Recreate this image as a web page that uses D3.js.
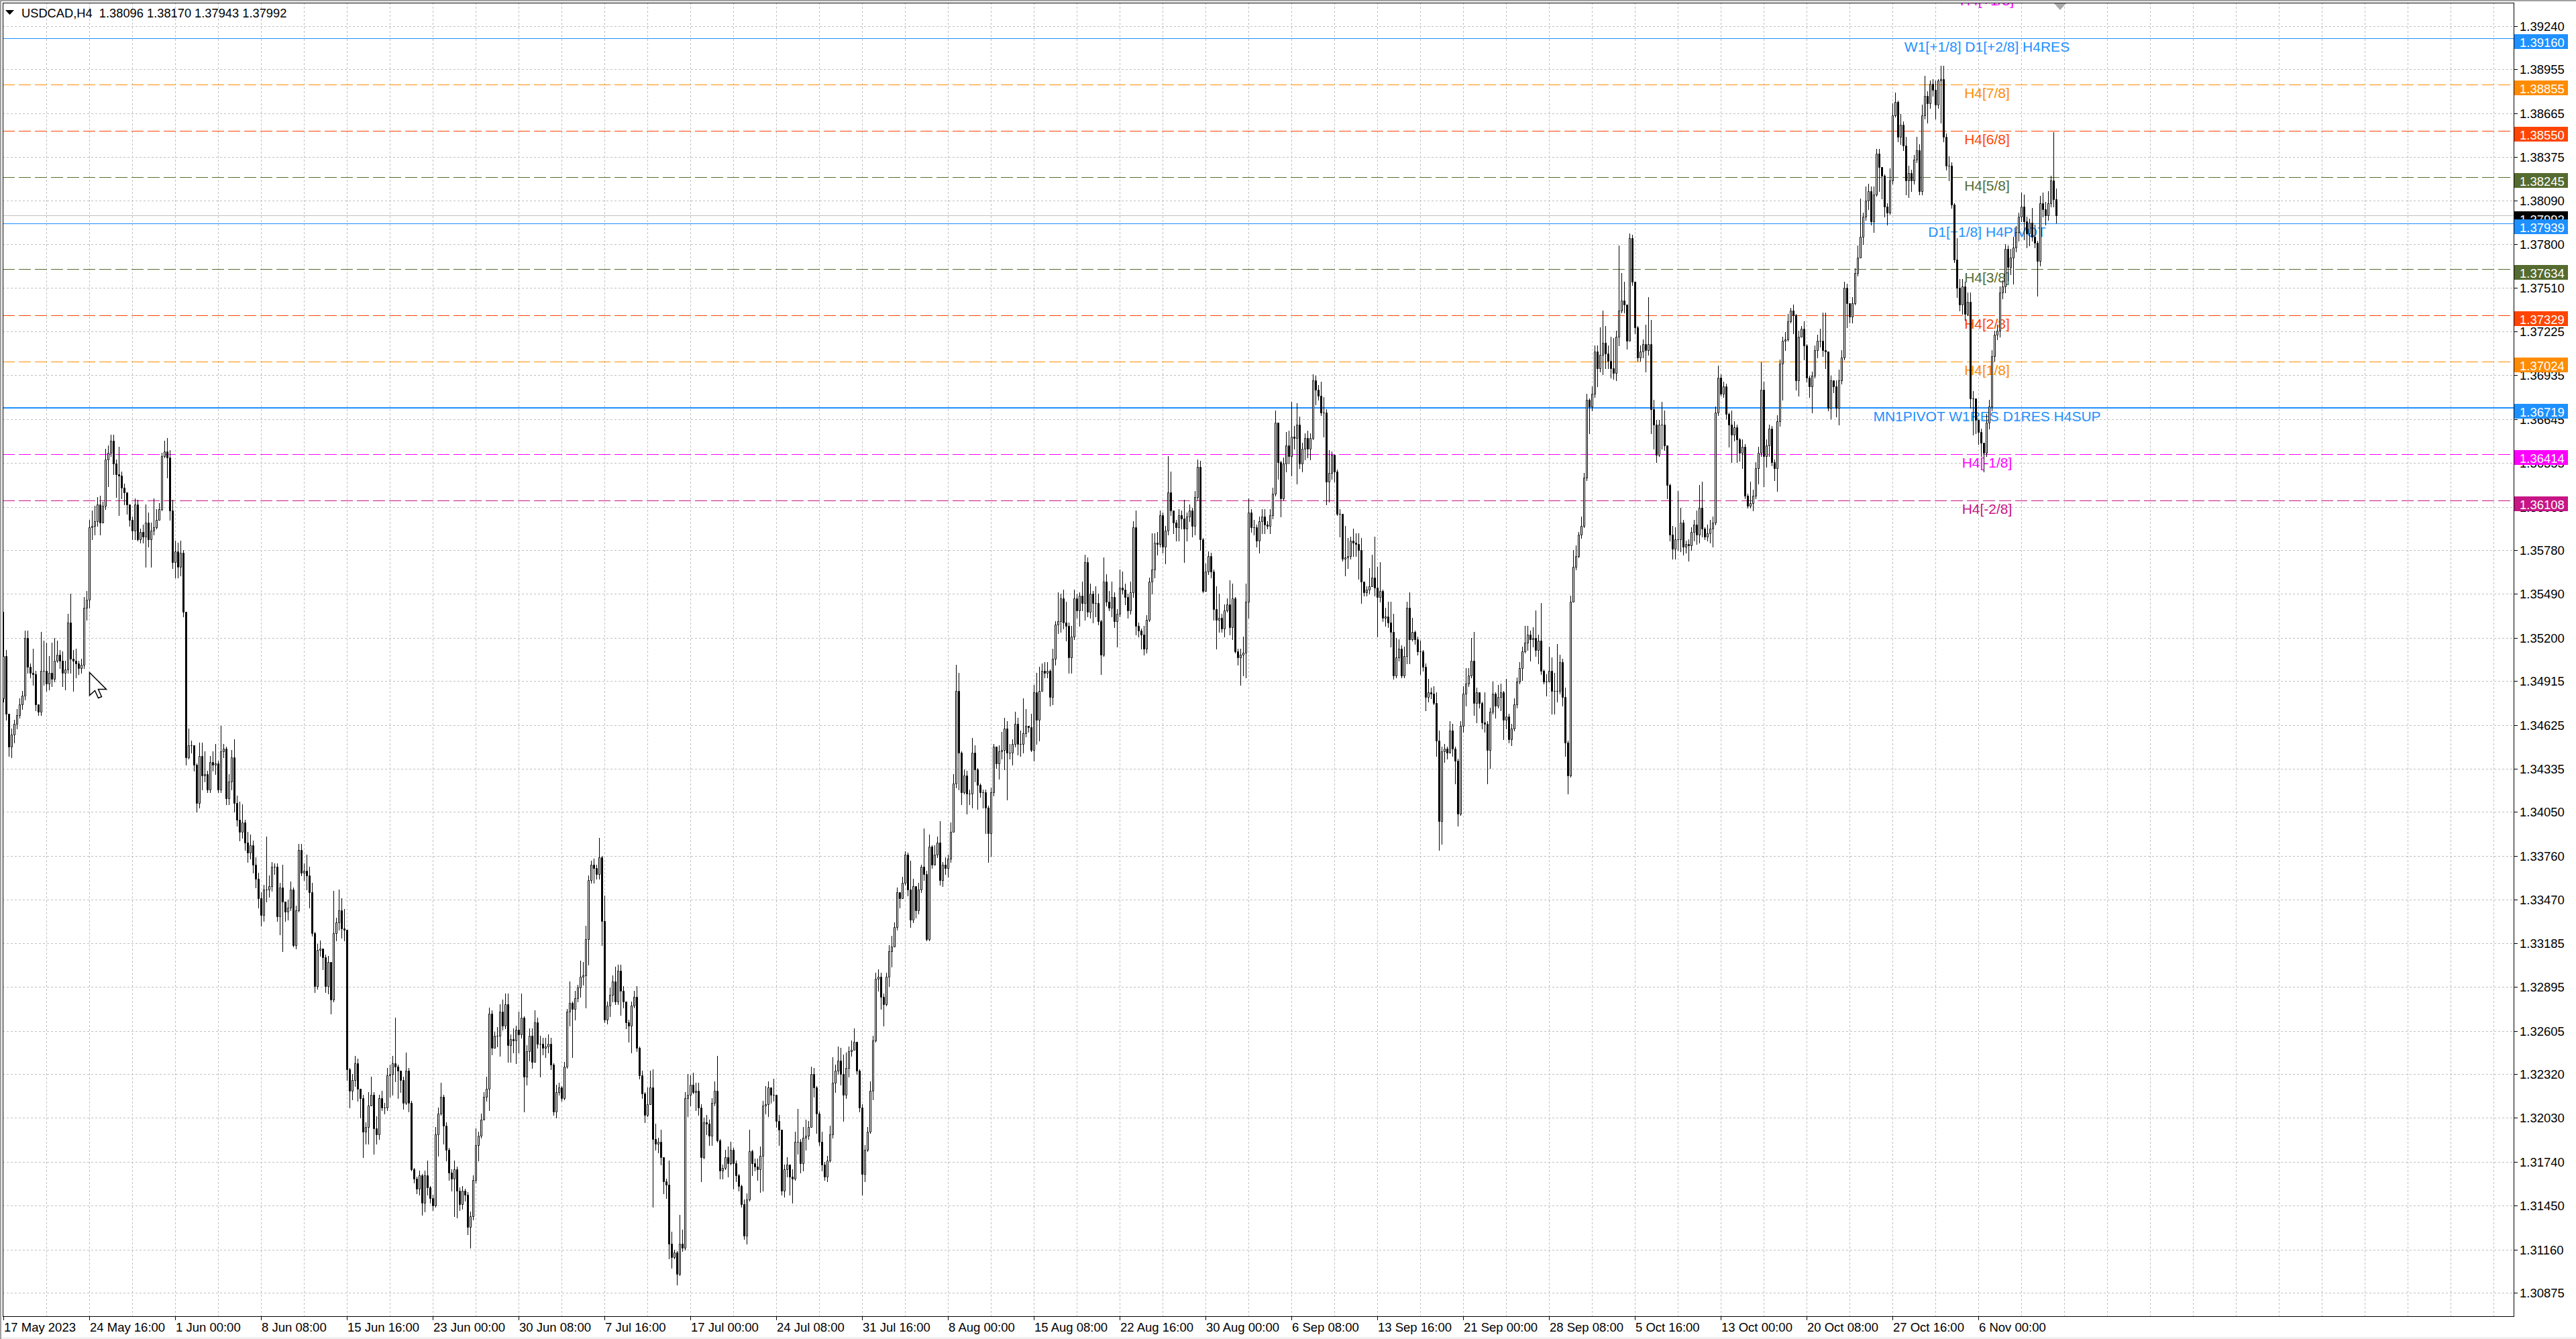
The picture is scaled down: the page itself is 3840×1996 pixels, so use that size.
<!DOCTYPE html>
<html>
<head>
<meta charset="utf-8">
<script src="https://cdnjs.cloudflare.com/ajax/libs/d3/7.8.5/d3.min.js"></script>
<style>
  html, body { margin: 0; padding: 0; background: #f0f0f0; }
  svg { display: block; }
  text { font-family: "Liberation Sans", Arial, sans-serif; }
</style>
</head>
<body>
<svg id="chart" width="3840" height="1996"></svg>
<script>
// USDCAD H4 candles, values in pips above 1.3000 (open = previous close)
const firstOpen = 480;
const closes = [
  508,470,448,456,463,469,476,482,520,501,497,496,476,471,498,498,490,497,493,505,
  509,505,497,499,530,506,505,503,500,502,540,545,593,594,597,608,596,607,638,642,
  650,635,628,627,619,616,608,598,591,608,585,590,587,596,585,591,593,598,605,640,
  643,639,604,570,577,567,576,537,441,449,449,436,411,442,429,430,420,438,436,437,
  420,445,447,414,425,441,411,400,392,398,385,378,383,370,361,348,337,354,354,356,
  369,369,336,355,346,339,342,354,317,340,380,365,366,363,352,325,290,314,315,309,
  290,306,281,325,332,340,328,327,235,221,228,239,222,216,194,197,211,218,196,192,
  216,210,210,231,232,239,237,234,228,213,234,213,169,163,156,165,147,165,157,150,
  145,192,206,217,198,182,167,163,169,155,146,155,152,131,138,162,185,191,202,217,
  222,272,249,257,257,273,264,278,251,255,254,261,258,269,230,247,257,240,266,252,
  252,249,250,252,238,207,220,223,216,237,273,279,275,282,289,296,297,321,360,370,
  368,364,375,333,268,277,284,293,280,300,287,280,266,264,277,283,249,231,219,205,
  212,223,189,186,187,177,161,159,120,111,114,100,120,117,216,218,225,220,221,210,
  177,200,199,191,213,221,188,168,170,177,173,182,173,165,158,146,125,149,181,173,
  171,169,178,211,212,223,218,218,201,195,155,169,172,164,163,187,187,173,190,191,
  197,232,223,206,187,172,164,175,192,226,234,241,232,218,236,247,248,253,234,210,
  166,182,194,221,254,295,296,283,278,296,313,316,329,352,348,358,377,354,334,356,
  340,354,369,364,321,382,370,377,385,360,370,368,374,392,424,485,444,418,429,417,
  417,444,433,423,418,418,408,391,418,448,437,445,446,460,444,444,450,463,450,450,
  457,462,461,446,484,466,485,498,497,498,481,506,529,531,546,530,528,507,521,546,
  538,548,543,570,537,549,543,543,531,509,557,544,540,547,531,536,553,552,547,538,
  550,593,528,525,522,513,532,557,565,583,582,601,580,591,616,604,596,593,601,599,
  592,600,604,594,613,633,585,551,564,574,564,539,532,533,526,538,542,527,546,511,
  507,509,510,544,603,593,593,584,597,600,595,594,601,615,662,636,612,635,647,640,
  653,652,661,635,645,652,645,652,690,684,680,669,669,623,629,641,630,602,602,572,
  573,574,584,583,582,578,557,550,552,554,560,553,547,551,533,534,530,524,495,507,
  513,495,508,540,519,524,519,511,511,501,481,484,483,477,452,399,445,447,444,459,
  447,439,404,462,483,490,495,505,477,484,477,464,463,446,471,483,475,481,484,466,
  468,453,460,476,491,500,511,517,522,519,520,512,518,498,491,491,498,485,485,485,
  504,481,451,429,544,567,574,588,594,626,677,673,681,709,698,707,715,708,703,698,
  695,719,736,743,740,716,784,755,725,705,709,714,710,714,671,661,641,661,661,647,
  621,588,579,585,585,596,580,582,581,590,595,588,606,592,587,589,592,596,669,692,
  681,686,668,661,654,659,651,642,646,614,607,609,614,632,642,684,640,647,658,636,
  632,663,701,716,717,729,736,733,690,719,724,713,692,686,693,710,716,716,710,709,
  672,690,686,672,690,705,751,741,732,741,761,771,785,798,809,815,795,813,840,831,
  825,805,801,822,865,874,851,859,845,822,827,822,836,842,815,865,878,873,886,882,
  872,888,889,851,832,832,806,770,751,740,752,734,742,678,678,664,656,649,642,662,
  673,706,720,723,748,752,777,765,771,778,788,798,805,795,787,794,785,781,769,807,
  803,799,807,822,809.6,799.2
];
const highs = [
  537,512,470,460,466,473,480,485,525,525,503,513,498,476,524,518,517,508,517,520,
  518,512,511,505,536,549,512,513,505,506,547,551,598,604,607,613,614,610,645,647,
  654,654,638,646,630,622,614,608,600,612,611,592,595,608,603,596,612,605,609,642,
  650,652,644,611,584,583,584,578,537,460,452,449,437,451,451,445,432,442,445,450,
  439,462,450,448,430,446,453,416,412,410,400,392,390,386,375,365,352,357,389,363,
  372,371,371,358,370,346,347,359,355,343,384,384,371,377,369,358,326,318,320,315,
  311,310,306,353,335,354,348,341,327,236,232,244,242,222,218,200,220,230,220,204,
  218,221,213,236,238,244,269,238,233,230,246,236,214,170,164,168,166,168,175,158,
  152,197,210,226,218,200,183,169,175,171,157,158,156,154,141,165,196,194,206,220,
  230,276,274,260,263,278,281,285,285,258,262,264,273,285,270,251,262,262,274,269,
  257,256,256,258,256,239,225,226,224,240,275,293,280,287,291,307,306,330,363,373,
  374,370,388,376,350,280,289,297,303,304,304,290,279,268,280,287,290,250,234,220,
  223,234,235,199,190,195,175,163,175,128,116,115,139,129,220,232,231,233,226,226,
  212,203,205,202,216,227,244,189,172,182,184,187,183,175,166,159,149,153,195,182,
  176,176,184,214,224,227,222,229,217,205,195,172,177,172,169,194,209,189,197,202,
  201,237,236,224,207,194,174,178,198,243,238,250,249,245,246,250,254,262,253,235,
  212,185,197,227,257,299,301,299,285,299,317,323,332,355,351,362,379,378,373,361,
  355,358,370,394,366,390,383,383,389,399,372,375,377,398,430,502,497,445,433,432,
  420,454,449,434,424,420,420,409,421,450,448,449,458,467,465,450,453,471,467,459,
  480,473,462,470,489,497,501,503,504,504,499,513,531,550,549,552,544,530,528,552,
  549,550,557,575,573,556,551,554,549,532,573,562,551,557,550,539,565,564,556,549,
  557,597,604,530,526,528,535,560,589,589,590,604,603,594,640,630,600,598,605,604,
  611,603,608,606,617,638,637,586,569,577,576,565,554,549,536,542,546,558,556,547,
  513,513,521,556,612,605,598,595,600,605,605,597,605,619,670,662,637,639,656,657,
  676,660,675,666,649,655,657,655,694,693,687,689,679,671,644,643,636,631,605,602,
  594,586,587,592,589,589,586,556,554,566,575,587,567,570,552,540,544,544,536,520,
  519,515,514,544,550,533,525,521,518,512,503,493,487,488,484,459,448,450,448,465,
  463,448,440,465,488,500,500,520,524,487,484,478,484,465,474,491,484,489,490,485,
  493,470,463,480,494,504,514,528,528,525,527,538,522,543,499,496,514,507,497,516,
  509,506,487,452,548,578,581,590,600,629,681,678,686,713,713,725,736,726,713,719,
  718,723,779,761,755,740,787,786,755,726,713,717,727,745,730,677,664,664,676,670,
  647,622,594,593,617,606,598,584,585,593,598,604,621,623,593,595,598,600,673,700,
  694,689,688,669,670,663,661,652,651,648,615,623,618,636,646,702,689,651,661,660,
  638,667,704,719,722,734,738,740,734,723,726,729,714,693,696,713,720,724,735,735,
  709,693,688,690,697,710,755,754,737,745,764,779,810,801,818,820,818,818,843,843,
  831,826,807,830,873,880,875,866,861,851,832,829,839,851,846,872,891,881,888,889,
  888,889,898,898,853,838,834,807,784,757,757,755,748,748,683,678,662,658,649,668,
  677,710,723,727,752,756,780,779,777,785,792,801,814,813,798,797,804,793,782,812,
  814,808,815,825,854,817
];
const lows = [
  478,466,442,441,451,460,467,473,479,497,494,489,472,469,469,489,485,486,488,491,
  504,500,488,486,497,497,485,494,496,497,500,532,540,585,588,594,588,596,605,620,
  640,628,613,601,612,608,602,594,585,585,584,583,583,567,580,567,588,592,600,604,
  639,626,598,566,560,560,561,534,436,440,444,432,405,408,420,425,418,418,432,430,
  418,418,441,410,410,420,405,396,386,388,380,372,374,365,355,342,330,333,346,349,
  353,364,333,324,313,333,334,340,316,315,339,363,360,354,342,323,286,288,310,301,
  286,285,272,280,320,327,322,320,228,210,215,224,214,203,177,186,186,212,179,186,
  189,208,206,208,217,218,227,216,220,209,212,207,168,160,153,152,139,141,152,147,
  142,144,178,205,186,175,162,155,138,137,142,143,148,126,117,136,160,175,190,203,
  214,208,245,249,250,244,261,262,240,240,246,239,246,256,207,225,241,236,240,249,
  230,245,243,246,235,205,203,218,214,215,236,264,243,268,280,283,291,276,304,358,
  358,361,361,317,266,265,270,280,278,278,271,276,262,253,246,276,247,229,216,200,
  204,213,144,182,180,172,153,150,110,104,110,93,99,115,116,204,211,219,208,205,
  161,176,192,185,185,211,187,163,163,169,164,172,156,161,155,144,123,120,148,165,
  168,162,154,155,206,204,213,214,197,185,152,151,164,152,147,162,179,167,168,182,
  189,197,217,193,185,168,162,161,174,190,220,232,225,201,216,230,244,248,232,207,
  152,161,181,193,215,253,287,275,264,277,290,303,318,327,342,348,357,350,329,332,
  335,338,352,360,320,320,368,370,375,357,356,364,362,372,392,421,420,410,417,404,
  410,408,425,407,415,408,391,372,376,416,434,427,440,433,413,440,436,448,443,442,
  444,455,458,445,439,450,452,485,494,494,475,476,502,523,524,526,518,497,497,519,
  533,528,538,532,534,533,530,534,529,496,508,541,538,534,527,514,534,549,542,533,
  536,547,522,521,513,509,510,531,549,560,575,580,576,569,588,601,589,584,584,592,
  570,584,597,587,588,611,578,550,552,562,560,532,513,524,524,521,537,522,519,510,
  502,489,495,494,533,590,588,580,576,589,589,592,589,599,614,625,600,611,630,635,
  627,645,622,632,630,638,639,638,651,674,677,667,653,608,610,625,623,601,587,571,
  561,566,572,574,574,559,543,548,548,549,554,548,521,544,531,528,527,514,493,494,
  505,494,494,503,503,518,516,509,496,498,472,478,480,476,442,380,384,438,440,444,
  442,424,396,403,458,475,488,494,469,464,474,460,458,424,434,470,467,474,472,453,
  460,451,449,459,474,490,492,510,512,505,514,508,503,496,490,482,491,470,470,478,
  483,475,442,417,428,544,565,573,586,593,624,655,670,679,686,696,694,698,698,692,
  691,690,713,735,735,711,716,753,721,703,703,705,696,707,655,645,636,640,645,644,
  612,584,572,572,578,577,575,576,571,578,584,582,583,587,585,584,583,580,595,667,
  680,679,665,646,636,650,636,637,632,612,606,606,604,612,622,640,620,633,640,634,
  624,617,660,677,710,716,728,721,684,680,719,704,689,679,669,692,705,712,706,698,
  670,665,682,666,661,688,704,725,728,728,740,759,771,780,796,803,793,788,812,815,
  810,798,793,800,820,864,848,846,842,813,811,815,820,834,813,813,863,860,870,878,
  863,870,860,848,829,822,804,768,745,736,734,730,733,672,654,655,648,640,630,640,
  658,670,703,717,719,744,748,756,760,754,775,782,795,783,778,779,782,778,746,766,
  798,793,796,805,805,794.3
];

const symbol = 'USDCAD,H4';
const priceTicks = [1.39240,1.38955,1.38665,1.38375,1.38090,1.37800,1.37510,1.37225,1.36935,1.36645,
  1.36355,1.36065,1.35780,1.35490,1.35200,1.34915,1.34625,1.34335,1.34050,1.33760,
  1.33470,1.33185,1.32895,1.32605,1.32320,1.32030,1.31740,1.31450,1.31160,1.30875];
const dateLabels = ['17 May 2023','24 May 16:00','1 Jun 00:00','8 Jun 08:00','15 Jun 16:00','23 Jun 00:00',
  '30 Jun 08:00','7 Jul 16:00','17 Jul 00:00','24 Jul 08:00','31 Jul 16:00','8 Aug 00:00','15 Aug 08:00',
  '22 Aug 16:00','30 Aug 00:00','6 Sep 08:00','13 Sep 16:00','21 Sep 00:00','28 Sep 08:00','5 Oct 16:00',
  '13 Oct 00:00','20 Oct 08:00','27 Oct 16:00','6 Nov 00:00'];
const barsPerDateLabel = 32;

// Murrey / pivot levels
const levelPrices = [1.39465,1.39160,1.38855,1.38550,1.38245,1.37939,1.37634,1.37329,1.37024,1.36719,1.36414,1.36108];
const levelNames = ['H4[+1/8]','W1[+1/8] D1[+2/8] H4RES','H4[7/8]','H4[6/8]','H4[5/8]','D1[+1/8] H4PIVOT',
  'H4[3/8]','H4[2/8]','H4[1/8]','MN1PIVOT W1RES D1RES H4SUP','H4[-1/8]','H4[-2/8]'];
const levelKinds = ['ext','blue','orange','red','olive','blue','olive','red','orange','main','ext','low2'];

const levelStyle = {
  blue:   { color: '#1e90ff', width: 1, dash: null },
  main:   { color: '#1e90ff', width: 2, dash: null },
  orange: { color: '#ff8c00', width: 1, dash: '18,6' },
  red:    { color: '#ff4500', width: 1, dash: '18,6' },
  olive:  { color: '#556b2f', width: 1, dash: '18,6' },
  ext:    { color: '#ff00ff', width: 1, dash: '18,6' },
  low2:   { color: '#c71585', width: 1, dash: '18,6' }
};

const svg = d3.select('#chart');
const plotL = 4, plotT = 4, plotR = 3747, plotB = 1962;
const labelX = 2962;

const toPrice = v => 1.3 + v / 10000;
const bars = closes.map((c, i) => ({
  i: i,
  o: toPrice(i ? closes[i - 1] : firstOpen),
  h: toPrice(highs[i]),
  l: toPrice(lows[i]),
  c: toPrice(c)
}));
const last = bars[bars.length - 1];

const x = d3.scaleLinear().domain([0, bars.length - 1]).range([5, 5 + 4 * (bars.length - 1)]);
const y = d3.scaleLinear().domain([priceTicks[priceTicks.length - 1], priceTicks[0]]).range([1927, 39]);
const py = v => Math.round(y(v));

// background and window frame
svg.append('rect').attr('x', 0).attr('y', 0).attr('width', 3840).attr('height', 1993).attr('fill', '#fff');
svg.append('rect').attr('x', 0).attr('y', 0).attr('width', 3840).attr('height', 2).attr('fill', '#a0a0a0');
svg.append('rect').attr('x', 0).attr('y', 0).attr('width', 2).attr('height', 1996).attr('fill', '#a0a0a0');

svg.append('defs').append('clipPath').attr('id', 'plotClip')
  .append('rect').attr('x', plotL + 1).attr('y', plotT + 1)
  .attr('width', plotR - plotL - 1).attr('height', plotB - plotT - 1);

// grid
let grid = svg.append('g').attr('stroke', '#c0c0c0').attr('stroke-width', 1).attr('stroke-dasharray', '3,3');
grid.selectAll('line.h')
  .data(priceTicks)
  .join('line')
    .attr('class', 'h')
    .attr('x1', plotL).attr('x2', plotR)
    .attr('y1', d => py(d) + 0.5).attr('y2', d => py(d) + 0.5);
let gridBars = d3.range(16, 2000, 16).filter(b => x(b) < plotR - 2);
grid.selectAll('line.v')
  .data(gridBars)
  .join('line')
    .attr('class', 'v')
    .attr('x1', d => x(d) + 0.5).attr('x2', d => x(d) + 0.5)
    .attr('y1', plotT).attr('y2', plotB);

// levels
let levels = levelPrices.map((p, k) => ({ p: p, name: levelNames[k], st: levelStyle[levelKinds[k]] }));
let levelG = svg.append('g').attr('clip-path', 'url(#plotClip)');
levelG.selectAll('line')
  .data(levels)
  .join('line')
    .attr('x1', plotL).attr('x2', plotR)
    .attr('y1', d => py(d.p) + (d.st.width === 1 ? 0.5 : 0))
    .attr('y2', d => py(d.p) + (d.st.width === 1 ? 0.5 : 0))
    .attr('stroke', d => d.st.color)
    .attr('stroke-width', d => d.st.width)
    .attr('stroke-dasharray', d => d.st.dash);
levelG.selectAll('text')
  .data(levels)
  .join('text')
    .attr('x', labelX)
    .attr('y', d => py(d.p) + 20)
    .attr('text-anchor', 'middle')
    .attr('font-size', 21)
    .attr('fill', d => d.st.color)
    .text(d => d.name);

// bid line
svg.append('line')
  .attr('x1', plotL).attr('x2', plotR)
  .attr('y1', py(last.c) + 0.5).attr('y2', py(last.c) + 0.5)
  .attr('stroke', '#c0c0c0').attr('stroke-width', 1);

// candles
let candleG = svg.append('g').attr('clip-path', 'url(#plotClip)');
candleG.selectAll('line')
  .data(bars)
  .join('line')
    .attr('x1', d => x(d.i) + 0.5).attr('x2', d => x(d.i) + 0.5)
    .attr('y1', d => py(d.h)).attr('y2', d => py(d.l) + 1)
    .attr('stroke', '#000').attr('stroke-width', 1);
candleG.selectAll('path')
  .data(bars)
  .join('path')
    .attr('d', d => {
      const top = py(Math.max(d.o, d.c));
      const bot = py(Math.min(d.o, d.c));
      return 'M' + (x(d.i) - 0.5) + ',' + (top + 0.5) + 'h2v' + (bot - top) + 'h-2Z';
    })
    .attr('fill', d => d.c < d.o ? '#000' : '#fff')
    .attr('stroke', '#000').attr('stroke-width', 1);

// frame
let frame = svg.append('g').attr('stroke', '#000').attr('stroke-width', 1);
frame.append('line').attr('x1', plotL).attr('x2', plotR + 1).attr('y1', plotT + 0.5).attr('y2', plotT + 0.5);
frame.append('line').attr('x1', plotL + 0.5).attr('x2', plotL + 0.5).attr('y1', plotT).attr('y2', plotB + 1);
frame.append('line').attr('x1', plotR + 0.5).attr('x2', plotR + 0.5).attr('y1', plotT).attr('y2', plotB + 1);
frame.append('line').attr('x1', plotL).attr('x2', plotR + 1).attr('y1', plotB + 0.5).attr('y2', plotB + 0.5);

// price axis
let axisR = svg.append('g');
axisR.selectAll('line')
  .data(priceTicks)
  .join('line')
    .attr('x1', plotR).attr('x2', plotR + 6)
    .attr('y1', d => py(d) + 0.5).attr('y2', d => py(d) + 0.5)
    .attr('stroke', '#000');
axisR.selectAll('text')
  .data(priceTicks)
  .join('text')
    .attr('x', 3756)
    .attr('y', d => py(d) + 7)
    .attr('font-size', 18.5)
    .attr('fill', '#000')
    .text(d => d.toFixed(5));

// price labels on axis (bid first, levels on top)
let boxes = [{ p: last.c, color: '#000' }]
  .concat(levels.filter(d => d.p <= y.domain()[1]).map(d => ({ p: d.p, color: d.st.color })));
let boxG = svg.append('g');
let box = boxG.selectAll('g')
  .data(boxes)
  .join('g')
    .attr('transform', d => 'translate(' + (plotR + 1) + ',' + py(d.p) + ')');
box.append('rect')
  .attr('x', 0).attr('y', -6).attr('width', 80).attr('height', 22)
  .attr('fill', d => d.color);
box.append('text')
  .attr('x', 8).attr('y', 13)
  .attr('font-size', 18.5)
  .attr('fill', '#fff')
  .text(d => d.p.toFixed(5));

// time axis
let labelBars = dateLabels.map((_, k) => k * barsPerDateLabel);
let axisB = svg.append('g');
axisB.selectAll('line')
  .data(labelBars)
  .join('line')
    .attr('x1', d => x(d) + 0.5).attr('x2', d => x(d) + 0.5)
    .attr('y1', plotB).attr('y2', plotB + 6)
    .attr('stroke', '#000');
axisB.selectAll('text')
  .data(labelBars)
  .join('text')
    .attr('x', d => x(d) + 1)
    .attr('y', 1985)
    .attr('font-size', 18.5)
    .attr('fill', '#000')
    .text((d, k) => dateLabels[k]);

// title
svg.append('path').attr('d', 'M8,15L21,15L14.5,22Z').attr('fill', '#000');
svg.append('text')
  .attr('x', 32).attr('y', 26)
  .attr('font-size', 18.3)
  .attr('fill', '#000')
  .style('white-space', 'pre')
  .text(symbol + '  ' + [last.o, last.h, last.l, last.c].map(v => v.toFixed(5)).join(' '));

// chart shift marker
svg.append('path')
  .attr('d', 'M' + (x(last.i) - 3) + ',5h18l-9,10Z')
  .attr('fill', '#a9a9a9');

// mouse cursor left in the screenshot
svg.append('path')
  .attr('transform', 'translate(133.5,1002.5)')
  .attr('d', 'M0,0L0,34L8,27L13,38L18,36L13,25L25,25Z')
  .attr('fill', '#fff').attr('stroke', '#000').attr('stroke-width', 1.5);
</script>
</body>
</html>
